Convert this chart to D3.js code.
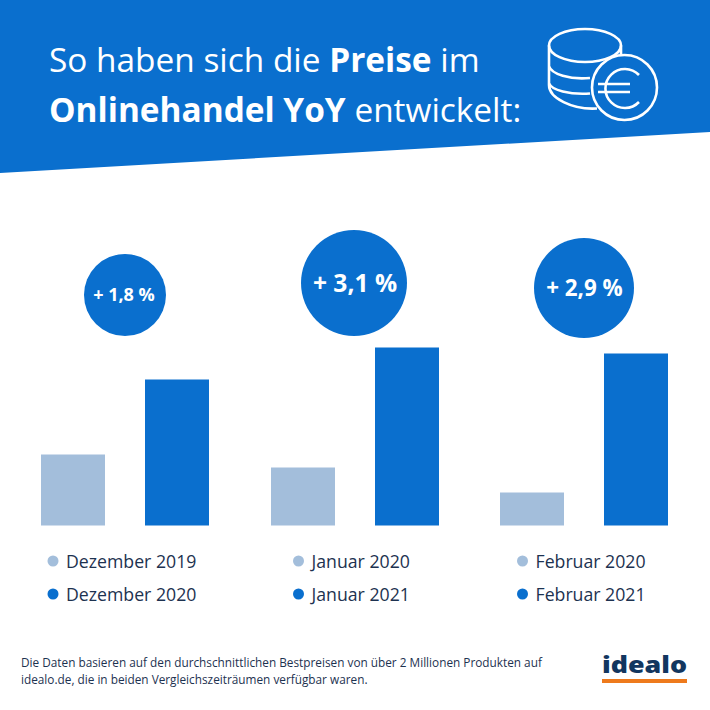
<!DOCTYPE html>
<html><head><meta charset="utf-8">
<script src="https://cdn.jsdelivr.net/npm/d3@7"></script>
<style>html,body{margin:0;padding:0;background:#fff}svg{display:block}text{font-family:"Open Sans",sans-serif}</style>
</head><body><svg id="c" width="710" height="710"></svg>
<script>
const groups = ["Dezember","Januar","Februar"];
const previousLabels = ["Dezember 2019","Januar 2020","Februar 2020"];
const currentLabels = ["Dezember 2020","Januar 2021","Februar 2021"];
const previousValues = [71,58,33];
const currentValues = [146,178,172];
const changeLabels = ["+ 1,8 %","+ 3,1 %","+ 2,9 %"];
const titleLine1 = [["So haben sich die ",400],["Preise",700],[" im",400]];
const titleLine2 = [["Onlinehandel YoY",700],[" entwickelt:",400]];
const footnote = ["Die Daten basieren auf den durchschnittlichen Bestpreisen von über 2 Millionen Produkten auf","idealo.de, die in beiden Vergleichszeiträumen verfügbar waren."];

const BLUE="#0a6fce", LIGHT="#a3bedb", DARK="#1d3250";
const svg=d3.select("#c");
svg.append("path").attr("d","M0,0H710V132L0,173Z").attr("fill",BLUE);

function rich(y,parts){
  const t=svg.append("text").attr("x",49).attr("y",y).attr("font-size",33.4).attr("fill","#fff").attr("xml:space","preserve");
  parts.forEach(p=>t.append("tspan").attr("font-weight",p[1]).text(p[0]));
}
rich(72,titleLine1); rich(122,titleLine2);

// Coins icon
const ic=svg.append("g").attr("fill","none").attr("stroke","#fff").attr("stroke-width",2.6);
ic.append("ellipse").attr("cx",585).attr("cy",45.5).attr("rx",36).attr("ry",16.5);
ic.append("path").attr("d","M549,45.500V85C549,98 572,110 597,108.500M549,66C551,74 570,80 590,78M549,83C551,90 570,95 590,93.500M621,45.500V56");
ic.append("circle").attr("cx",624.5).attr("cy",87.5).attr("r",32.5);
ic.append("path").attr("d","M639,75A19.500,19.500 0 1 0 639,102M598,84H630M598,92H630");

const groupX=d3.scaleOrdinal().domain(groups).range([41,271,500]);
const barW=64, gap=104;
const y=d3.scaleLinear().domain([0,178]).range([525.5,347.5]);

groups.forEach((g,i)=>{
  const x0=groupX(g);
  svg.append("rect").attr("x",x0).attr("y",y(previousValues[i])).attr("width",barW).attr("height",y(0)-y(previousValues[i])).attr("fill",LIGHT);
  svg.append("rect").attr("x",x0+gap).attr("y",y(currentValues[i])).attr("width",barW).attr("height",y(0)-y(currentValues[i])).attr("fill",BLUE);
});

const bubbles=[{cx:125,cy:295,r:41,tx:124,fs:18},{cx:354,cy:283,r:53,tx:355,fs:24.6},{cx:584,cy:288,r:50,tx:584.5,fs:22.4}];
bubbles.forEach((b,i)=>{
  svg.append("circle").attr("cx",b.cx).attr("cy",b.cy).attr("r",b.r).attr("fill",BLUE);
  svg.append("text").attr("x",b.tx).attr("y",b.cy+b.fs*0.36).attr("text-anchor","middle").attr("font-size",b.fs).attr("font-weight",700).attr("fill","#fff").text(changeLabels[i]);
});

const legendDot=[53,298.5,522.5];
groups.forEach((g,i)=>{
  [[previousLabels,LIGHT,561],[currentLabels,BLUE,594]].forEach(([labs,c,yy])=>{
    svg.append("circle").attr("cx",legendDot[i]).attr("cy",yy).attr("r",5.5).attr("fill",c);
    svg.append("text").attr("x",legendDot[i]+13).attr("y",yy+7).attr("font-size",17.7).attr("fill",DARK).text(labs[i]);
  });
});

footnote.forEach((l,i)=>svg.append("text").attr("x",21).attr("y",667+i*16.5).attr("font-size",11.8).attr("fill",DARK).text(l));

svg.append("text").attr("x",602).attr("y",673).attr("font-size",23).attr("font-weight",800).attr("fill","#12365f").attr("textLength",85).attr("lengthAdjust","spacingAndGlyphs").text("idealo");
svg.append("rect").attr("x",602).attr("y",679).attr("width",85).attr("height",4).attr("fill","#ee7a1c");
</script></body></html>
